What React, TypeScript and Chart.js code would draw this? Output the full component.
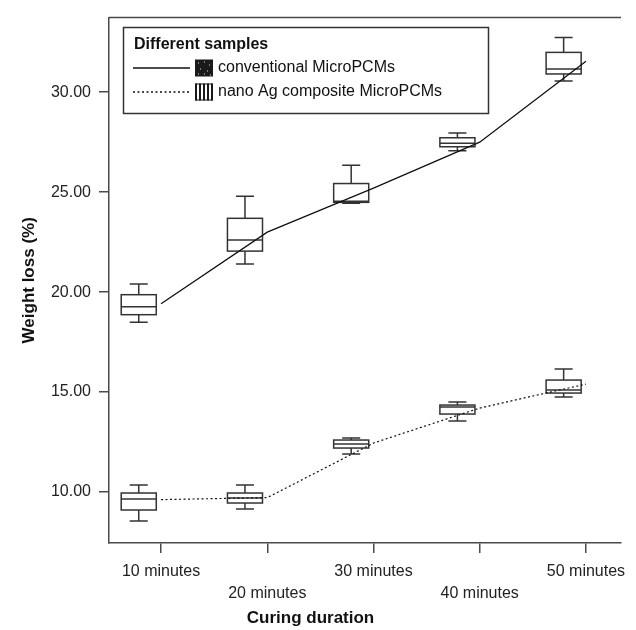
import React, { useEffect, useRef } from 'react';
import { Chart, registerables } from 'chart.js';
Chart.register(...registerables);

const categories = ['10 minutes', '20 minutes', '30 minutes', '40 minutes', '50 minutes'];
const yTicks = [10, 15, 20, 25, 30];

// conventional MicroPCMs
const convMean = [19.42, 23.0, 25.2, 27.5, 31.55];
const convMin = [18.49, 21.41, 24.45, 27.07, 30.56];
const convQ1 = [18.87, 22.05, 24.49, 27.27, 30.91];
const convMed = [19.27, 22.6, 24.55, 27.45, 31.16];
const convQ3 = [19.87, 23.69, 25.43, 27.72, 31.99];
const convMax = [20.4, 24.8, 26.34, 27.96, 32.73];

// nano Ag composite MicroPCMs
const nanoMean = [9.62, 9.72, 12.45, 14.2, 15.4];
const nanoMin = [8.55, 9.15, 11.9, 13.55, 14.75];
const nanoQ1 = [9.1, 9.45, 12.2, 13.9, 14.95];
const nanoMed = [9.65, 9.7, 12.4, 14.25, 15.1];
const nanoQ3 = [9.95, 9.95, 12.6, 14.35, 15.6];
const nanoMax = [10.35, 10.35, 12.7, 14.5, 16.15];

const FONT = "'Liberation Sans', Arial, sans-serif";
const AXIS = '#4a4a4a';

const boxSets = [
  { min: convMin, q1: convQ1, med: convMed, q3: convQ3, max: convMax },
  { min: nanoMin, q1: nanoQ1, med: nanoMed, q3: nanoQ3, max: nanoMax },
];

const BOX_OFFSET = -0.21;
const BOX_HALF = 0.165;
const CAP_HALF = 0.085;

const boxPlugin = {
  id: 'boxes',
  beforeDatasetsDraw(chart: any) {
    const { ctx, scales } = chart;
    const xs = scales.x, ys = scales.y;
    ctx.save();
    ctx.strokeStyle = '#333';
    ctx.lineWidth = 1.5;
    boxSets.forEach((b) => {
      categories.forEach((_, i) => {
        const c = i + 1 + BOX_OFFSET;
        const xl = xs.getPixelForValue(c - BOX_HALF);
        const xr = xs.getPixelForValue(c + BOX_HALF);
        const xc = xs.getPixelForValue(c);
        const cl = xs.getPixelForValue(c - CAP_HALF);
        const cr = xs.getPixelForValue(c + CAP_HALF);
        const yMin = ys.getPixelForValue(b.min[i]);
        const yQ1 = ys.getPixelForValue(b.q1[i]);
        const yMed = ys.getPixelForValue(b.med[i]);
        const yQ3 = ys.getPixelForValue(b.q3[i]);
        const yMax = ys.getPixelForValue(b.max[i]);
        ctx.beginPath();
        ctx.moveTo(xc, yQ3); ctx.lineTo(xc, yMax);
        ctx.moveTo(cl, yMax); ctx.lineTo(cr, yMax);
        ctx.moveTo(xc, yQ1); ctx.lineTo(xc, yMin);
        ctx.moveTo(cl, yMin); ctx.lineTo(cr, yMin);
        ctx.stroke();
        ctx.fillStyle = '#fff';
        ctx.fillRect(xl, yQ3, xr - xl, yQ1 - yQ3);
        ctx.strokeRect(xl, yQ3, xr - xl, yQ1 - yQ3);
        ctx.beginPath();
        ctx.moveTo(xl, yMed); ctx.lineTo(xr, yMed);
        ctx.stroke();
      });
    });
    ctx.restore();
  },
};

const framePlugin = {
  id: 'frame',
  afterDraw(chart: any) {
    const { ctx, chartArea: a } = chart;
    ctx.save();
    ctx.strokeStyle = AXIS;
    ctx.lineWidth = 1.5;
    ctx.beginPath();
    ctx.moveTo(a.left, a.top); ctx.lineTo(a.right, a.top);
    ctx.stroke();
    ctx.restore();
  },
};

const legendPlugin = {
  id: 'customLegend',
  afterDraw(chart: any) {
    const { ctx } = chart;
    ctx.save();
    const L = 123.5, T = 27.5, W = 365, H = 86;
    ctx.fillStyle = '#fff';
    ctx.fillRect(L, T, W, H);
    ctx.strokeStyle = '#333';
    ctx.lineWidth = 1.5;
    ctx.strokeRect(L, T, W, H);
    ctx.fillStyle = '#111';
    ctx.textBaseline = 'middle';
    ctx.textAlign = 'left';
    ctx.font = `bold 16px ${FONT}`;
    ctx.fillText('Different samples', 134, 45);
    ctx.font = `16px ${FONT}`;
    const rows = [
      { y: 68, dash: [] as number[], label: 'conventional MicroPCMs', kind: 'dots' },
      { y: 92, dash: [2, 2.5], label: 'nano Ag composite MicroPCMs', kind: 'stripes' },
    ];
    rows.forEach((r) => {
      ctx.strokeStyle = '#111';
      ctx.lineWidth = 1.3;
      ctx.setLineDash(r.dash);
      ctx.beginPath();
      ctx.moveTo(133, r.y); ctx.lineTo(190, r.y);
      ctx.stroke();
      ctx.setLineDash([]);
      const sx = 195, sy = r.y - 8.5, sw = 18, sh = 17;
      if (r.kind === 'dots') {
        ctx.fillStyle = '#1a1a1a';
        ctx.fillRect(sx, sy, sw, sh);
        ctx.fillStyle = '#ddd';
        const pts = [[3, 3], [9, 2], [14, 5], [5, 9], [12, 11], [3, 14], [9, 14], [15, 15]];
        pts.forEach(([px, py]) => ctx.fillRect(sx + px, sy + py, 1, 1));
      } else {
        ctx.fillStyle = '#fff';
        ctx.fillRect(sx, sy, sw, sh);
        ctx.fillStyle = '#1a1a1a';
        for (let k = 0; k < 5; k++) ctx.fillRect(sx + k * 4, sy, 2, sh);
        ctx.strokeStyle = '#1a1a1a';
        ctx.lineWidth = 1;
        ctx.strokeRect(sx + 0.5, sy + 0.5, sw - 1, sh - 1);
      }
      ctx.fillStyle = '#111';
      ctx.fillText(r.label, 218, r.y);
    });
    ctx.restore();
  },
};

export default function App() {
  const ref = useRef<HTMLCanvasElement>(null);
  useEffect(() => {
    document.body.style.margin = '0';
    const canvas = ref.current!;
    const chart = new Chart(canvas, {
      type: 'line',
      data: {
        datasets: [
          {
            label: 'conventional MicroPCMs',
            data: convMean.map((v, i) => ({ x: i + 1, y: v })),
            borderColor: '#111',
            borderWidth: 1.3,
            pointRadius: 0,
            fill: false,
            tension: 0,
          },
          {
            label: 'nano Ag composite MicroPCMs',
            data: nanoMean.map((v, i) => ({ x: i + 1, y: v })),
            borderColor: '#111',
            borderWidth: 1.2,
            borderDash: [2, 2.5],
            pointRadius: 0,
            fill: false,
            tension: 0,
          },
        ],
      },
      options: {
        responsive: false,
        animation: false,
        layout: { padding: { left: 0, top: 14, right: 15, bottom: 0 } },
        plugins: {
          legend: { display: false },
          tooltip: { enabled: false },
          title: {
            display: true,
            text: 'Curing duration',
            position: 'bottom',
            color: '#111',
            font: { family: FONT, size: 17, weight: 'bold' },
            padding: { top: 0, bottom: 1 },
          },
        },
        scales: {
          x: {
            type: 'linear',
            min: 0.51,
            max: 5.33,
            afterBuildTicks: (s: any) => { s.ticks = categories.map((_, i) => ({ value: i + 1 })); },
            afterFit: (s: any) => { s.height = 65.6; },
            ticks: {
              autoSkip: false,
              maxRotation: 0,
              padding: 8,
              color: '#222',
              font: { family: FONT, size: 16, lineHeight: 1.375 },
              callback: (v: any) => {
                const i = Math.round(Number(v)) - 1;
                const t = categories[i] ?? '';
                return i % 2 === 1 ? ['', t] : t;
              },
            },
            grid: { drawOnChartArea: false, drawTicks: true, tickLength: 10, color: AXIS, lineWidth: 1.5 },
            border: { display: true, color: AXIS, width: 1.5 },
          },
          y: {
            type: 'linear',
            min: 7.45,
            max: 33.73,
            afterBuildTicks: (s: any) => { s.ticks = yTicks.map((v) => ({ value: v })); },
            afterFit: (s: any) => { s.width = 109; },
            ticks: {
              padding: 8,
              color: '#222',
              font: { family: FONT, size: 16 },
              callback: (v: any) => Number(v).toFixed(2),
            },
            title: {
              display: true,
              text: 'Weight loss (%)',
              color: '#111',
              font: { family: FONT, size: 17, weight: 'bold' },
              padding: { top: 19, bottom: 0 },
            },
            grid: { drawOnChartArea: false, drawTicks: true, tickLength: 10, color: AXIS, lineWidth: 1.5 },
            border: { display: true, color: AXIS, width: 1.5 },
          },
        },
      },
      plugins: [boxPlugin, framePlugin, legendPlugin],
    });
    return () => chart.destroy();
  }, []);
  return (
    <div style={{ width: 636, height: 630 }}>
      <canvas ref={ref} width={636} height={630} />
    </div>
  );
}
